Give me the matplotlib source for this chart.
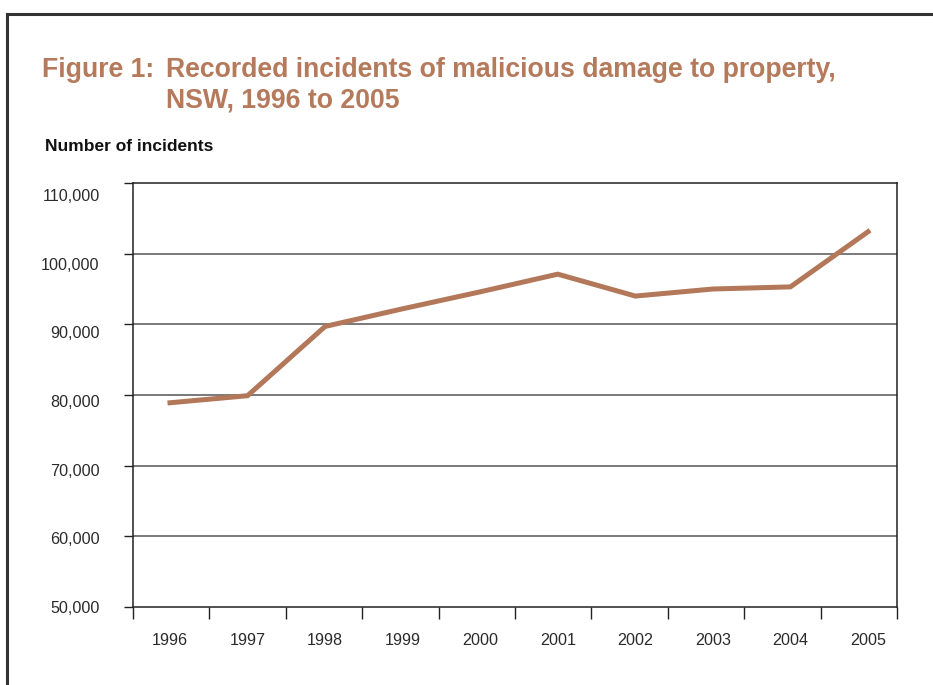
import numpy as np
import matplotlib
matplotlib.use("Agg")
import matplotlib.pyplot as plt
from matplotlib.lines import Line2D
from matplotlib.ticker import FuncFormatter

# Recorded incidents of malicious damage to property, NSW
years = ["1996", "1997", "1998", "1999", "2000", "2001", "2002", "2003", "2004", "2005"]
incidents = [78900, 79900, 89700, 92200, 94600, 97100, 94000, 95000, 95300, 103100]
y_ticks = list(range(50000, 110001, 10000))

plt.rcParams["font.family"] = ["Liberation Sans", "DejaVu Sans"]

brown = "#b27859"
title_col = "#b57a5c"
ink = "#222222"

fig = plt.figure(figsize=(9.33, 6.85), dpi=100)
ax = fig.add_axes([133 / 933, 78 / 685, 764 / 933, 424 / 685])

x = np.arange(len(years))
ax.plot(x, incidents, color=brown, lw=3.6, solid_joinstyle="miter", zorder=3)

ax.set_ylim(50000, 110000)
ax.set_xlim(-0.477, 9.374)

# horizontal gridlines
for v in y_ticks[1:-1]:
    ax.axhline(v, color="#555555", lw=1.1, zorder=1)

ax.set_yticks(y_ticks)
ax.set_yticklabels([])
ax.tick_params(axis="y", direction="out", length=6.5, width=1, color=ink)

# value labels sit on their own, slightly shorter scale
lab = fig.add_axes([133 / 933, 78 / 685, 764 / 933, 412 / 685], frameon=False)
lab.set_ylim(50000, 110000)
lab.set_xticks([])
lab.set_yticks(y_ticks)
lab.yaxis.set_major_formatter(FuncFormatter(lambda v, p: f"{int(v):,}"))
lab.tick_params(axis="y", length=0, pad=24, labelsize=11.6, labelcolor="#2a2a2a")
lab.patch.set_visible(False)

# category boundaries as ticks, year labels between them
lo, hi = ax.get_xlim()
ax.set_xticks(np.linspace(lo, hi, len(years) + 1))
ax.set_xticklabels([])
ax.set_xticks(x, minor=True)
ax.set_xticklabels(years, minor=True)
ax.tick_params(axis="x", which="major", direction="out", length=8.6, width=1, color=ink)
ax.tick_params(axis="x", which="minor", length=0, pad=19, labelsize=11.6, labelcolor="#2a2a2a")

for s in ax.spines.values():
    s.set_color(ink)
    s.set_linewidth(1.1)

# outer frame
fig.add_artist(Line2D([7 / 933, 7 / 933], [0, 671 / 685], color="#333333", lw=2.2))
fig.add_artist(Line2D([7 / 933, 1], [671 / 685, 671 / 685], color="#333333", lw=2.2))

fig.text(42 / 933, 1 - 77 / 685, "Figure 1:", color=title_col, fontsize=19.2,
         fontweight="bold", va="baseline")
fig.text(166 / 933, 1 - 77 / 685, "Recorded incidents of malicious damage to property,",
         color=title_col, fontsize=19.2, fontweight="bold", va="baseline")
fig.text(166 / 933, 1 - 107 / 685, "NSW, 1996 to 2005",
         color=title_col, fontsize=19.2, fontweight="bold", va="baseline")

fig.text(45 / 933, 1 - 151 / 685, "Number of incidents", color="#111111", fontsize=12.5,
         fontweight="bold", va="baseline")

fig.savefig("out.png", dpi=100)
